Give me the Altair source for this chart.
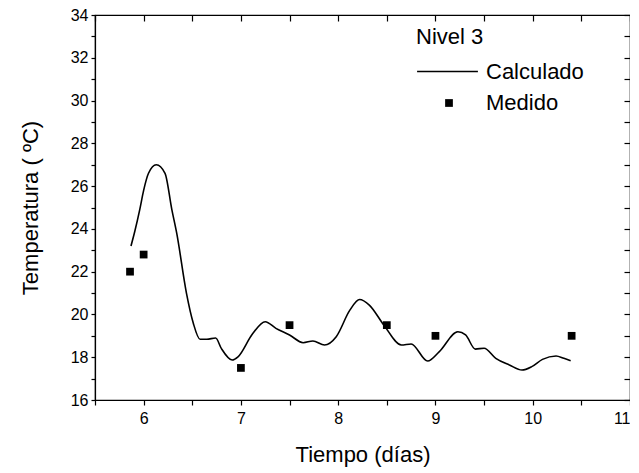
import altair as alt
import pandas as pd

# Calculated curve (Calculado)
calc_x = [5.87, 5.91, 5.96, 6.00, 6.05, 6.13, 6.22, 6.29, 6.34, 6.44, 6.51, 6.58,
          6.65, 6.74, 6.80, 6.91, 6.97, 7.12, 7.25, 7.36, 7.50, 7.64, 7.74, 7.86,
          7.98, 8.12, 8.22, 8.32, 8.47, 8.65, 8.75, 8.92, 9.04, 9.23, 9.31, 9.41,
          9.50, 9.62, 9.76, 9.89, 9.99, 10.10, 10.24, 10.32, 10.39]
calc_y = [23.2, 23.9, 24.9, 25.8, 26.6, 27.0, 26.6, 24.9, 23.8, 21.0, 19.6, 18.84,
          18.84, 18.9, 18.4, 17.87, 18.02, 19.1, 19.66, 19.35, 19.04, 18.68, 18.76, 18.57,
          18.96, 20.2, 20.7, 20.44, 19.5, 18.57, 18.62, 17.82, 18.26, 19.19, 19.04, 18.38,
          18.42, 17.95, 17.64, 17.4, 17.56, 17.9, 18.06, 17.95, 17.84]

# Measured points (Medido)
med_x = [5.86, 6.0, 7.0, 7.5, 8.5, 9.0, 10.4]
med_y = [22.0, 22.8, 17.5, 19.5, 19.5, 19.0, 19.0]

x_ticks = [5.5 + 0.5 * i for i in range(12)]
y_ticks = list(range(16, 35))

calc = pd.DataFrame({"x": calc_x, "y": calc_y, "s": ["Calculado"] * len(calc_x)})
med = pd.DataFrame({"x": med_x, "y": med_y, "m": ["Medido"] * len(med_x)})

FONT = "Liberation Sans"
xscale = alt.Scale(domain=[5.5, 11], nice=False, zero=False)
yscale = alt.Scale(domain=[16, 34], nice=False, zero=False)

line = alt.Chart(calc).mark_line(strokeWidth=1.6, interpolate="monotone").encode(
    x=alt.X("x:Q", scale=xscale, title="Tiempo (días)",
            axis=alt.Axis(values=x_ticks,
                          labelExpr="datum.value % 1 == 0 ? format(datum.value, 'd') : ''",
                          tickSize=5, grid=False, labelFontSize=16, titleFontSize=22,
                          titleFontWeight="normal", titlePadding=18, labelPadding=5)),
    y=alt.Y("y:Q", scale=yscale, title="Temperatura ( ºC)",
            axis=alt.Axis(values=y_ticks,
                          labelExpr="datum.value % 2 == 0 ? format(datum.value, 'd') : ''",
                          tickSize=4, grid=False, labelFontSize=16, titleFontSize=22,
                          titleFontWeight="normal", titlePadding=28, labelPadding=3)),
    stroke=alt.Stroke("s:N", scale=alt.Scale(domain=["Calculado"], range=["black"]),
                      legend=alt.Legend(title="Nivel 3", orient="none", legendX=321, legendY=12,
                                        symbolType="stroke", symbolSize=3700, symbolStrokeWidth=1.6,
                                        labelOffset=7, titleFontSize=22, titleFontWeight="normal",
                                        labelFontSize=22, titlePadding=-9, padding=0)),
)

pts = alt.Chart(med).mark_point(shape="square", filled=True, size=60, color="black", opacity=1).encode(
    x=alt.X("x:Q", scale=xscale, title=None,
            axis=alt.Axis(values=x_ticks, labels=False, domain=False, tickSize=6, grid=False,
                          orient="bottom", offset=-385)),
    y=alt.Y("y:Q", scale=yscale, title=None,
            axis=alt.Axis(values=y_ticks, labels=False, domain=False, tickSize=6, grid=False,
                          orient="left", offset=-535)),
    shape=alt.Shape("m:N", scale=alt.Scale(domain=["Medido"], range=["square"]),
                    legend=alt.Legend(title=None, orient="none", legendX=343, legendY=77,
                                      symbolSize=60, symbolFillColor="black", symbolStrokeWidth=0,
                                      labelOffset=26, labelFontSize=22, padding=0)),
)

chart = alt.layer(line, pts).resolve_axis(x="independent", y="independent").resolve_legend(
    stroke="independent", shape="independent"
).properties(
    width=535, height=385,
    autosize=alt.AutoSizeParams(type="none"),
    padding={"left": 87, "top": 7, "right": 0, "bottom": 72},
).configure_view(stroke="black", strokeWidth=1.2).configure_axis(
    domainColor="black", tickColor="black", labelColor="black", titleColor="black",
    labelFont=FONT, titleFont=FONT, domainWidth=1.2, tickWidth=1.2
).configure_legend(labelFont=FONT, titleFont=FONT, labelColor="black", titleColor="black")

chart.save("out.html", embed_options={"renderer": "svg", "actions": False})
